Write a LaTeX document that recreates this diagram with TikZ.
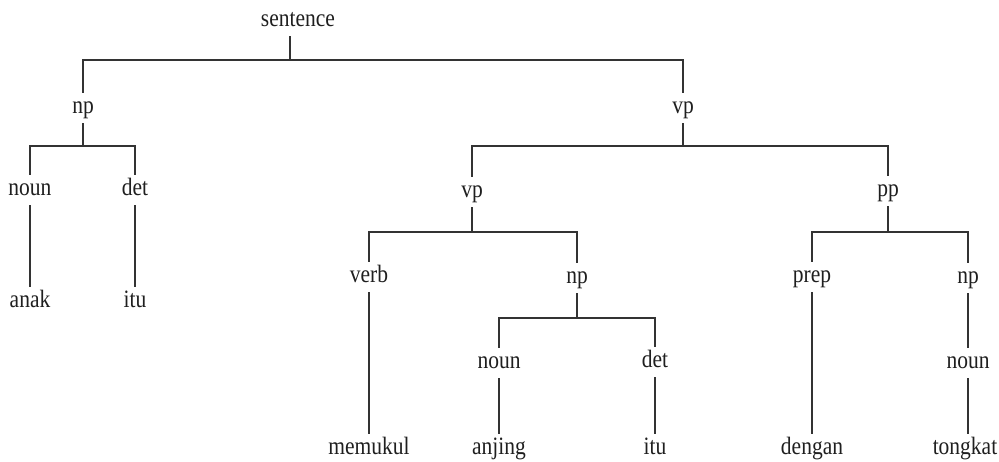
\documentclass[tikz,border=0pt]{standalone}
\usepackage{fontspec}
\setmainfont[FakeStretch=0.86]{Liberation Serif}
\begin{document}
\begin{tikzpicture}[x=1pt,y=-1pt,
  lbl/.style={inner xsep=1pt,inner ysep=3pt,text height=17.5pt,text depth=6.25pt,
    font=\fontsize{25}{28}\selectfont,text=black!88},
  edge/.style={draw=black!80,line width=1.3pt}]
\useasboundingbox (0,0) rectangle (999,461);
% nodes
\node[lbl] (s) at (298,21) {sentence};
\node[lbl] (np1) at (83,108) {np};
\node[lbl] (vp1) at (683,108) {vp};
\node[lbl] (noun1) at (30,190) {noun};
\node[lbl] (det1) at (135,190) {det};
\node[lbl] (anak) at (30,302) {anak};
\node[lbl] (itu1) at (135,302) {itu};
\node[lbl] (vp2) at (472,192) {vp};
\node[lbl] (pp) at (888,191) {pp};
\node[lbl] (verb) at (369,277) {verb};
\node[lbl] (np2) at (577,278) {np};
\node[lbl] (prep) at (812,277) {prep};
\node[lbl] (np3) at (968,278) {np};
\node[lbl] (noun2) at (499,363) {noun};
\node[lbl] (det2) at (655,362) {det};
\node[lbl] (noun3) at (968,363) {noun};
\node[lbl] (memukul) at (369,449) {memukul};
\node[lbl] (anjing) at (499,449) {anjing};
\node[lbl] (itu2) at (655,449) {itu};
\node[lbl] (dengan) at (812,449) {dengan};
\node[lbl] (tongkat) at (965,449) {tongkat};
% bar levels
\coordinate (b0) at (0,60);
\coordinate (b1) at (0,146);
\coordinate (b2) at (0,232);
\coordinate (b3) at (0,318);
\coordinate (stem) at (290,0);
% connectors
\draw[edge] (s.south -| stem) -- (stem |- b0);
\draw[edge] (np1.north) -- (np1 |- b0) -- (vp1 |- b0) -- (vp1.north);
\draw[edge] (np1.south) -- (np1 |- b1);
\draw[edge] (noun1.north) -- (noun1 |- b1) -- (det1 |- b1) -- (det1.north);
\draw[edge] (noun1.south) -- (anak.north);
\draw[edge] (det1.south) -- (itu1.north);
\draw[edge] (vp1.south) -- (vp1 |- b1);
\draw[edge] (vp2.north) -- (vp2 |- b1) -- (pp |- b1) -- (pp.north);
\draw[edge] (vp2.south) -- (vp2 |- b2);
\draw[edge] (verb.north) -- (verb |- b2) -- (np2 |- b2) -- (np2.north);
\draw[edge] (verb.south) -- (memukul.north);
\draw[edge] (np2.south) -- (np2 |- b3);
\draw[edge] (noun2.north) -- (noun2 |- b3) -- (det2 |- b3) -- (det2.north);
\draw[edge] (noun2.south) -- (anjing.north);
\draw[edge] (det2.south) -- (itu2.north);
\draw[edge] (pp.south) -- (pp |- b2);
\draw[edge] (prep.north) -- (prep |- b2) -- (np3 |- b2) -- (np3.north);
\draw[edge] (prep.south) -- (dengan.north);
\draw[edge] (np3.south) -- (noun3.north);
\draw[edge] (noun3.south) -- (noun3.south |- tongkat.north);
\end{tikzpicture}
\end{document}
